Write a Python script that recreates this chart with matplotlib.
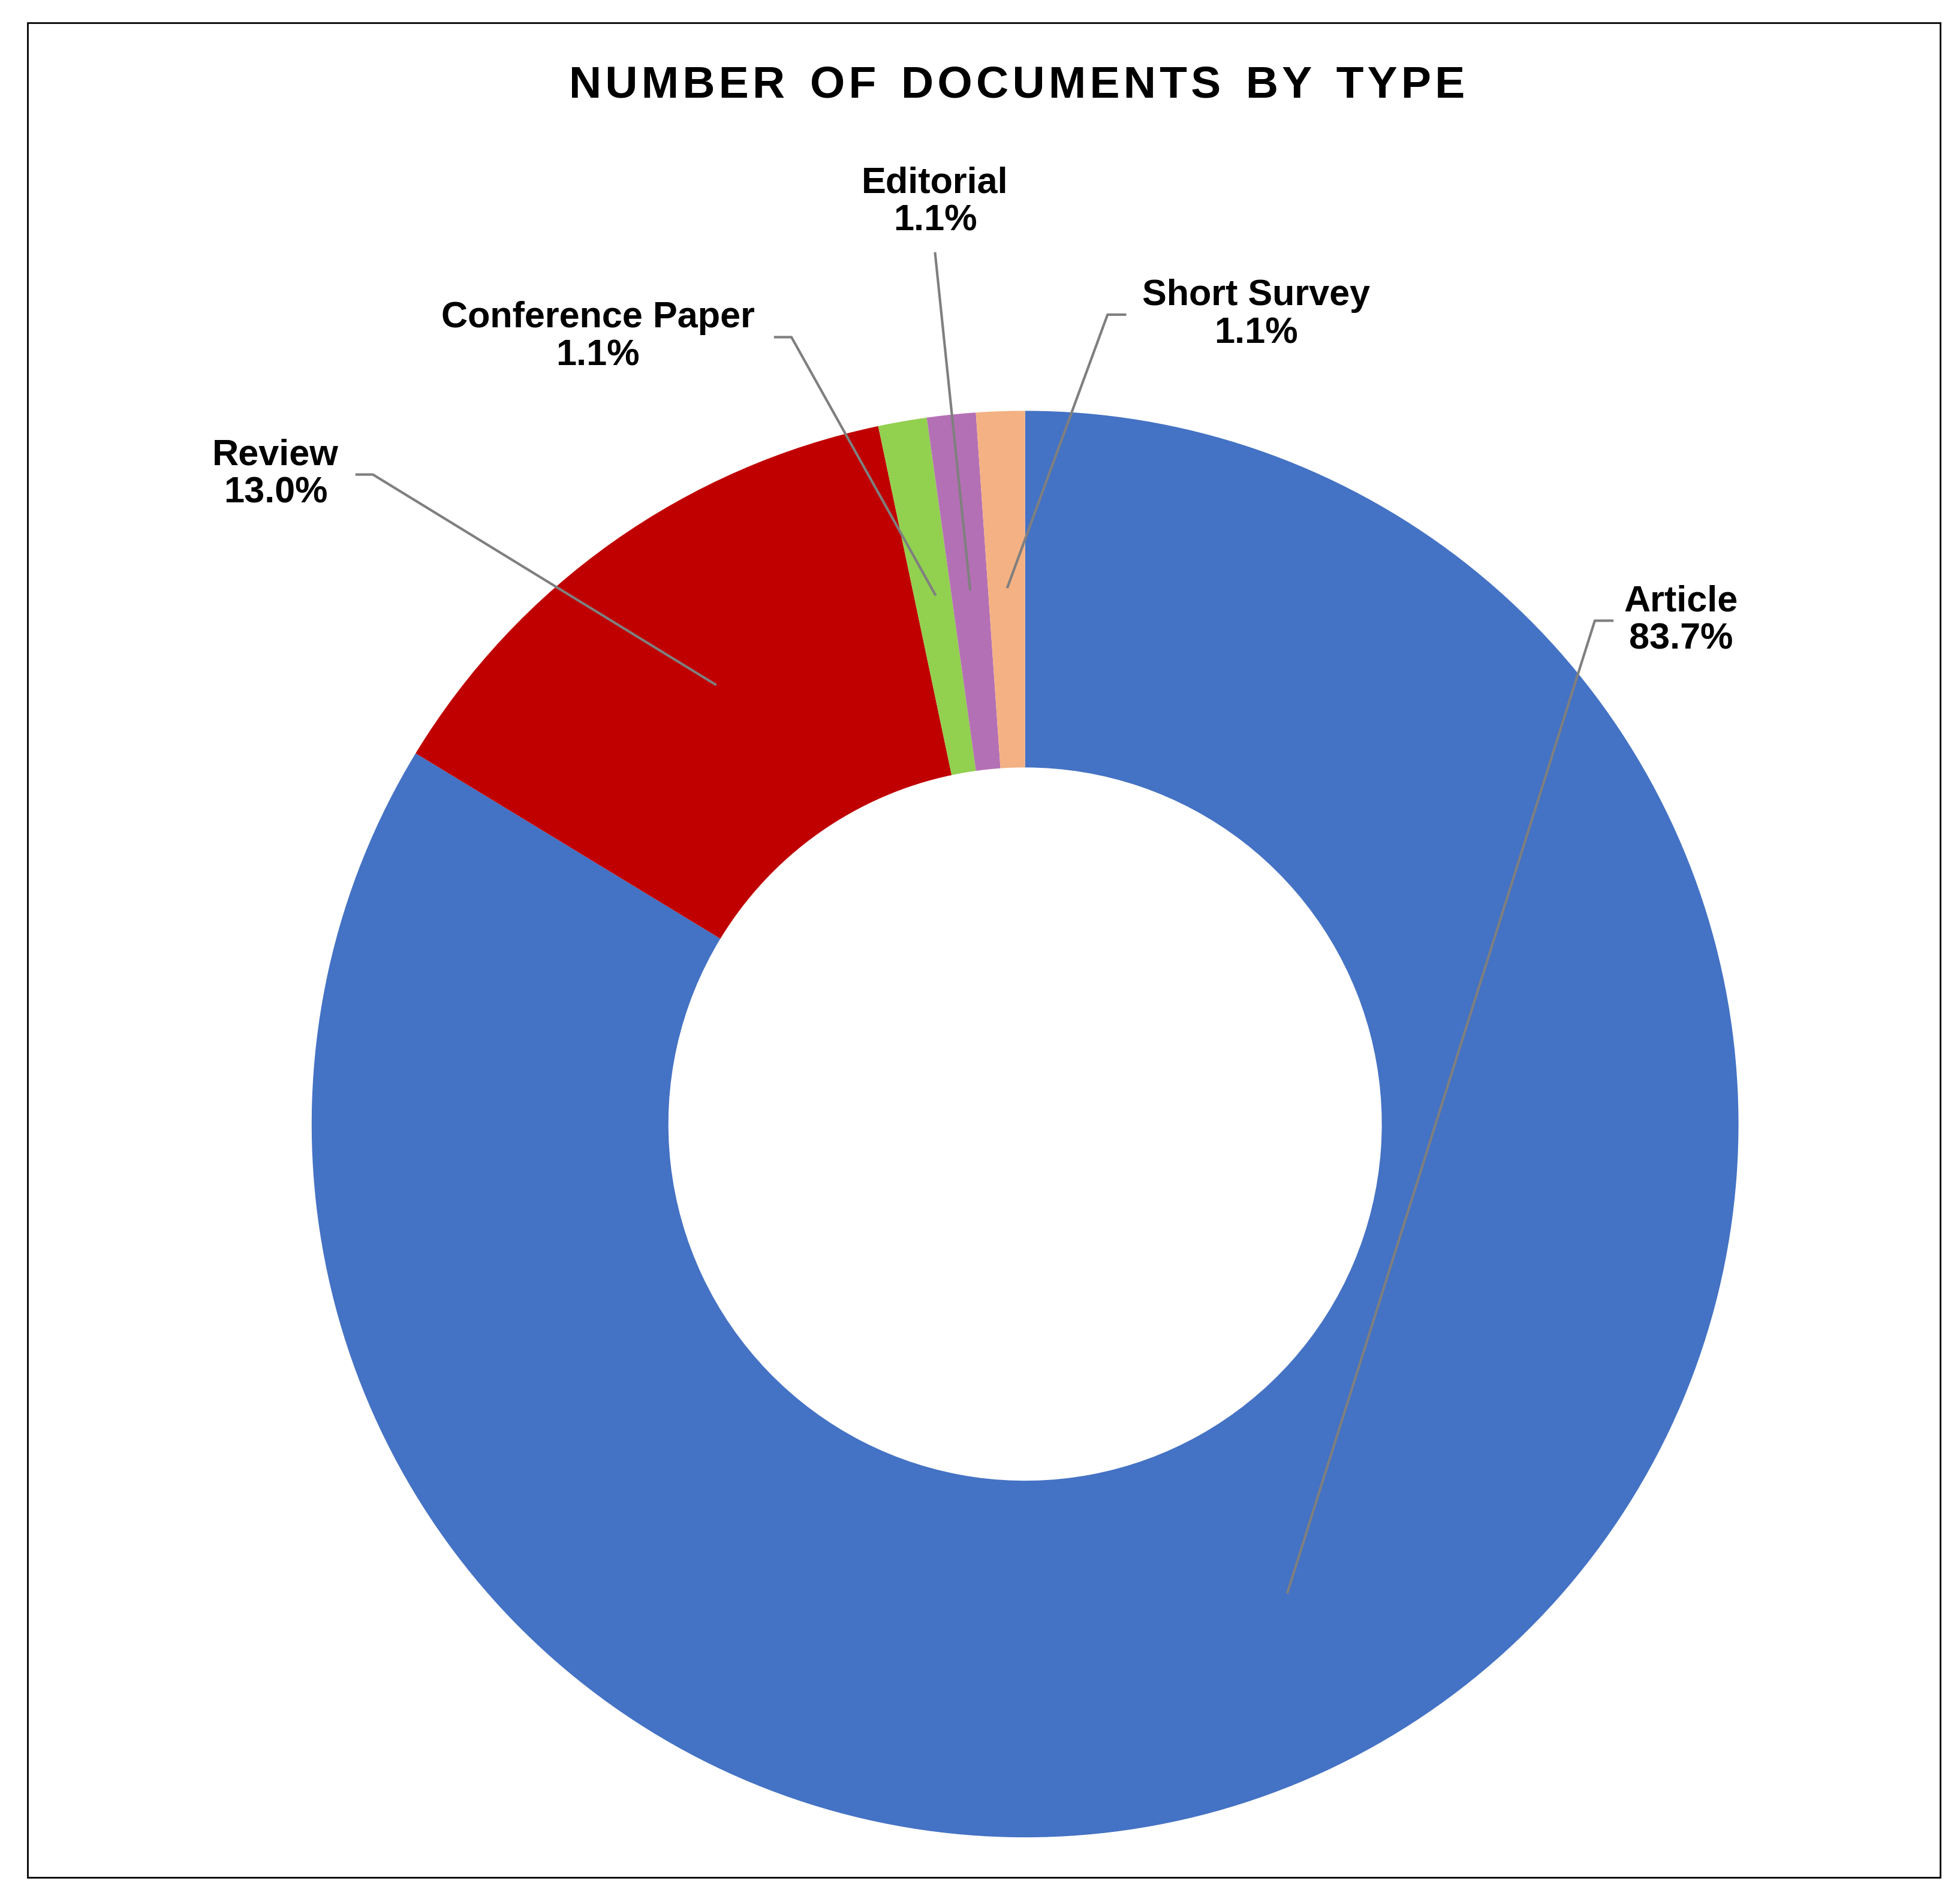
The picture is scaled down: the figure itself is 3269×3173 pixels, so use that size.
import matplotlib.pyplot as plt
from matplotlib.patches import Rectangle

plt.rcParams['font.family'] = ['Liberation Sans', 'DejaVu Sans']

# data
doc_types = ['Article', 'Review', 'Conference Paper', 'Editorial', 'Short Survey']
shares = [83.7, 13.0, 1.1, 1.1, 1.1]
colors = ['#4472C4', '#C00000', '#92D050', '#B470B4', '#F4B183']

# label placement in screen px of the reference (center 820,900, radius 571)
label_xy = [(1345, 497), (220, 380), (478, 270), (748, 162), (1005, 252)]
leaders = [
    [(1290, 497), (1276, 497), (1030, 1275)],
    [(285, 380), (298, 380), (572, 548)],
    [(620, 270), (633, 270), (748, 476)],
    [(748, 203), (776, 472)],
    [(900, 252), (886, 252), (806, 470)],
]

def to_data(p):
    return ((p[0] - 820) / 571.0, (900 - p[1]) / 571.0)

fig = plt.figure(figsize=(32.69, 31.73), dpi=100)
fig.patches.append(Rectangle((0.014, 0.013), 0.976, 0.975, transform=fig.transFigure,
                             fill=False, edgecolor='black', linewidth=2))
fig.text(0.519, 0.955, 'N U M B E R   O F   D O C U M E N T S   B Y   T Y P E'.replace('   ', '\u2003').replace(' ', '\u200a').replace('\u2003', '  '),
         ha='center', va='center', fontsize=54, fontweight='bold')

ax = fig.add_axes([0.159, 0.034, 0.728, 0.750])
ax.pie(shares, colors=colors, startangle=90, counterclock=False, radius=1,
       wedgeprops=dict(width=0.5, edgecolor='none'))
ax.set_xlim(-1, 1)
ax.set_ylim(-1, 1)
ax.set_aspect('equal')
ax.axis('off')

for name, val, xy, pts in zip(doc_types, shares, label_xy, leaders):
    tx, ty = to_data(xy)
    ax.text(tx, ty, f'{name}\n{val:.1f}%', ha='center', va='center', fontsize=44,
            fontweight='bold', linespacing=1.15, clip_on=False)
    d = [to_data(p) for p in pts]
    ax.plot([p[0] for p in d], [p[1] for p in d], color='#7F7F7F', lw=3, clip_on=False)

fig.savefig('out.png', dpi=100)
